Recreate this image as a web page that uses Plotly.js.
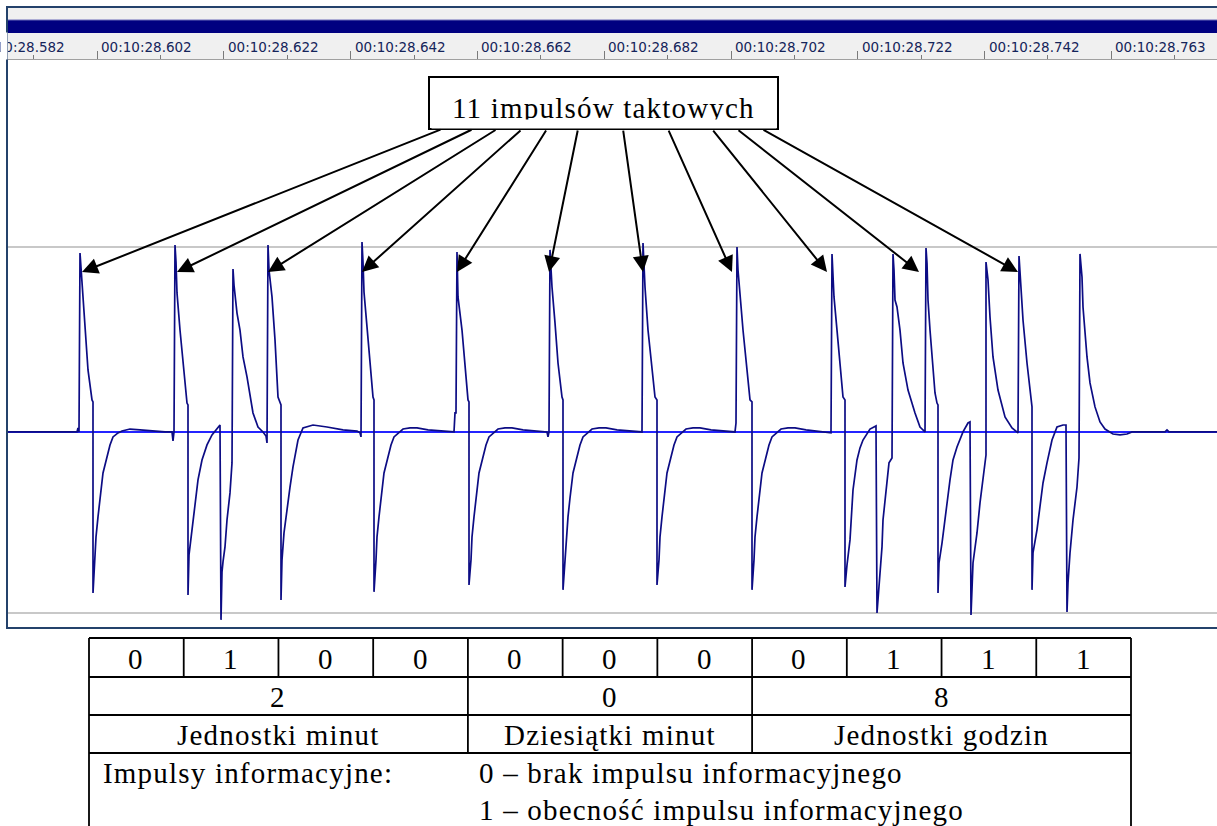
<!DOCTYPE html>
<html>
<head>
<meta charset="utf-8">
<script src="https://cdn.plot.ly/plotly-3.0.1.min.js"></script>
<style>
html, body { margin: 0; padding: 0; background: #ffffff; }
#chart { width: 1217px; height: 826px; }
text.annotation-text[style*="Liberation Serif"] { letter-spacing: 1.2px; }
</style>
</head>
<body>
<div id="chart"></div>
<script>
// ---------------- DATA ----------------
// time axis: sample index (44.1 kHz) relative to 00:10:28.602 ; amplitude normalised to the grey reference level
const timeTickSamples = [-888, 0, 888, 1775, 2663, 3550, 4438, 5325, 6213, 7100];
const timeTickLabels = ['00:10:28.582', '00:10:28.602', '00:10:28.622', '00:10:28.642', '00:10:28.662',
                        '00:10:28.682', '00:10:28.702', '00:10:28.722', '00:10:28.742', '00:10:28.763'];
const referenceLevels = [-0.989, 1.011];

const leadInT = [-623, -140, -133, -126];
const leadInV = [0, 0, 0.022, 0];

const clock1T = [-119, -112, -98, -84, -63, -35, -28, -28, -14, -7, 7, 21, 42, 70, 91, 112, 147, 175, 231, 301, 371, 476, 525, 532, 539];
const clock1V = [0.978, 0.896, 0.738, 0.557, 0.339, 0.175, 0.164, -0.880, -0.699, -0.574, -0.464, -0.361, -0.224, -0.137, -0.071, -0.027, -0.005, 0.005, 0.016, 0.011, 0.005, 0, 0, -0.049, 0];

const clock2T = [546, 553, 560, 581, 602, 630, 637, 637, 644, 665, 686, 707, 735, 770, 805, 840, 861, 868, 875, 882, 896, 910, 931, 945, 952, 959, 980, 1001, 1022, 1050, 1071, 1092, 1127, 1162, 1183, 1190];
const clock2V = [1.022, 0.929, 0.760, 0.557, 0.377, 0.158, 0.148, -0.891, -0.672, -0.535, -0.388, -0.262, -0.153, -0.071, -0.016, 0.022, 0.038, -1.027, -0.765, -0.710, -0.628, -0.481, -0.333, -0.169, 0.891, 0.803, 0.650, 0.557, 0.410, 0.301, 0.191, 0.104, 0.027, 0, -0.022, -0.060];

const clock3T = [1197, 1204, 1225, 1246, 1267, 1281, 1288, 1288, 1295, 1309, 1330, 1351, 1372, 1407, 1442, 1512, 1610, 1722, 1820, 1841, 1848];
const clock3V = [1.022, 0.885, 0.738, 0.503, 0.191, 0.158, 0.148, -0.918, -0.699, -0.552, -0.410, -0.301, -0.191, -0.044, 0.022, 0.038, 0.027, 0.011, 0.005, -0.005, -0.027];

const clock4T = [1855, 1862, 1869, 1890, 1911, 1932, 1939, 1939, 1953, 1960, 1974, 1988, 2009, 2037, 2058, 2079, 2114, 2142, 2191, 2240, 2317, 2401, 2499];
const clock4V = [1.038, 0.929, 0.765, 0.574, 0.377, 0.191, 0.175, -0.874, -0.699, -0.574, -0.464, -0.361, -0.224, -0.137, -0.071, -0.027, 0, 0.016, 0.022, 0.022, 0.011, 0.005, 0];

const clock5T = [2506, 2513, 2520, 2527, 2555, 2576, 2597, 2604, 2604, 2618, 2625, 2639, 2653, 2674, 2702, 2723, 2744, 2779, 2807, 2856, 2905, 2982, 3066, 3150, 3157, 3164];
const clock5V = [0.104, 0.104, 0.984, 0.738, 0.557, 0.339, 0.175, 0.164, -0.836, -0.699, -0.574, -0.464, -0.361, -0.224, -0.137, -0.071, -0.027, 0, 0.016, 0.022, 0.022, 0.011, 0.005, 0, -0.027, 0];

const clock6T = [3171, 3178, 3185, 3206, 3227, 3255, 3262, 3262, 3276, 3283, 3297, 3311, 3332, 3360, 3381, 3402, 3437, 3465, 3514, 3563, 3640, 3724, 3815];
const clock6V = [0.995, 0.885, 0.792, 0.596, 0.377, 0.191, 0.175, -0.863, -0.699, -0.574, -0.464, -0.361, -0.224, -0.137, -0.071, -0.027, 0, 0.016, 0.022, 0.022, 0.011, 0.005, 0];

const clock7T = [3822, 3829, 3836, 3857, 3885, 3906, 3920, 3920, 3934, 3941, 3955, 3969, 3990, 4018, 4039, 4060, 4095, 4123, 4172, 4221, 4298, 4382, 4466, 4473];
const clock7V = [1.033, 0.913, 0.792, 0.557, 0.339, 0.191, 0.175, -0.836, -0.699, -0.574, -0.464, -0.361, -0.224, -0.137, -0.071, -0.027, 0, 0.016, 0.022, 0.022, 0.011, 0.005, 0, 0.049];

const clock8T = [4480, 4487, 4501, 4522, 4550, 4571, 4585, 4585, 4599, 4606, 4620, 4634, 4655, 4683, 4704, 4725, 4760, 4788, 4837, 4886, 4963, 5047, 5138];
const clock8V = [1.011, 0.885, 0.738, 0.557, 0.339, 0.175, 0.164, -0.863, -0.699, -0.574, -0.464, -0.361, -0.224, -0.137, -0.071, -0.027, 0, 0.016, 0.022, 0.022, 0.011, 0.005, -0.005];

const clock9T = [5145, 5152, 5159, 5180, 5201, 5222, 5236, 5236, 5250, 5271, 5292, 5320, 5341, 5362, 5411, 5453, 5460, 5474, 5481, 5495, 5502, 5516, 5530, 5544, 5565, 5572, 5579, 5586, 5600, 5621, 5642, 5677, 5726, 5761, 5796];
const clock9V = [0.973, 0.858, 0.738, 0.557, 0.377, 0.191, 0.175, -0.847, -0.727, -0.590, -0.317, -0.153, -0.087, -0.044, 0.016, 0.033, -0.989, -0.863, -0.792, -0.628, -0.481, -0.372, -0.262, -0.169, -0.142, 0.973, 0.885, 0.721, 0.683, 0.557, 0.377, 0.229, 0.104, 0.027, 0];

const clock10T = [5803, 5810, 5817, 5831, 5852, 5866, 5880, 5887, 5887, 5894, 5915, 5936, 5950, 5971, 5992, 6020, 6062, 6097, 6111, 6118, 6132, 6160, 6181, 6202, 6216, 6223, 6223, 6237, 6251, 6272, 6307, 6356, 6405, 6447];
const clock10V = [1.005, 0.923, 0.721, 0.557, 0.366, 0.213, 0.158, 0.148, -0.880, -0.716, -0.607, -0.481, -0.372, -0.262, -0.153, -0.082, 0, 0.049, 0.055, -1.000, -0.716, -0.552, -0.388, -0.262, -0.153, -0.126, 0.929, 0.831, 0.628, 0.410, 0.229, 0.082, 0.022, -0.005];

const clock11T = [6454, 6461, 6468, 6482, 6510, 6531, 6545, 6545, 6552, 6580, 6601, 6622, 6650, 6685, 6720, 6762, 6783, 6790, 6797, 6811, 6832, 6860, 6874, 6881, 6895, 6902, 6930, 6951, 6986, 7021, 7056, 7091, 7112, 7161, 7210, 7245, 7476, 7490, 7504, 7840];
const clock11V = [0.962, 0.858, 0.776, 0.612, 0.377, 0.213, 0.137, -0.863, -0.661, -0.535, -0.410, -0.279, -0.169, -0.044, 0.027, 0.038, 0.038, -0.984, -0.825, -0.661, -0.481, -0.301, -0.142, 0.973, 0.847, 0.683, 0.410, 0.268, 0.137, 0.055, 0.016, 0, -0.011, -0.016, -0.011, 0, 0, 0.011, 0, 0];

// arrows: targets of the 11 clock pulses
const arrowTipT = [-105, 560, 1197, 1855, 2520, 3164, 3822, 4445, 5110, 5754, 6447];
const arrowTipV = 0.874;
const calloutText = '11 impulsów taktowych';

// table
const bits = ['0', '1', '0', '0', '0', '0', '0', '0', '1', '1', '1'];
const groupSpans = [4, 3, 4];
const groupDigits = ['2', '0', '8'];
const groupLabels = ['Jednostki minut', 'Dziesiątki minut', 'Jednostki godzin'];
const legendTitle = 'Impulsy informacyjne:';
const legendLines = ['0 – brak impulsu informacyjnego', '1 – obecność impulsu informacyjnego'];

// ---------------- LAYOUT HELPERS ----------------
const W = 1217, H = 826;
const M = { l: 8, r: 0, t: 60, b: 199 };
const PW = W - M.l - M.r, PH = H - M.t - M.b;
const px = x => (x - M.l) / PW;
const py = y => (H - M.b - y) / PH;
const xRange = [-623, 7840];
const yRange = [-1.066, 2.033];

const waveT = [].concat(leadInT, clock1T, clock2T, clock3T, clock4T, clock5T, clock6T, clock7T, clock8T, clock9T, clock10T, clock11T);
const waveV = [].concat(leadInV, clock1V, clock2V, clock3V, clock4V, clock5V, clock6V, clock7V, clock8V, clock9V, clock10V, clock11V);

const serif = 'Liberation Serif, Times New Roman, serif';
const sans = 'DejaVu Sans, Verdana, sans-serif';

const shapes = [];
const annotations = [];

// window chrome: grey strip, navy title bar, frame
shapes.push({ type: 'rect', xref: 'paper', yref: 'paper', x0: px(7), x1: px(1220), y0: py(60), y1: py(8),
  fillcolor: '#F0F0F0', line: { width: 0 }, layer: 'below' });
shapes.push({ type: 'rect', xref: 'paper', yref: 'paper', x0: px(8), x1: px(1220), y0: py(33), y1: py(20),
  fillcolor: '#000080', line: { width: 0 }, layer: 'below' });
shapes.push({ type: 'line', xref: 'paper', yref: 'paper', x0: px(8), x1: px(1220), y0: py(20), y1: py(20),
  line: { color: '#6A6AB8', width: 1 }, layer: 'below' });
const frameColor = '#24426B';
shapes.push({ type: 'line', xref: 'paper', yref: 'paper', x0: px(7), x1: px(7), y0: py(6), y1: py(629), line: { color: frameColor, width: 2 } });
shapes.push({ type: 'line', xref: 'paper', yref: 'paper', x0: px(6), x1: px(1220), y0: py(7), y1: py(7), line: { color: frameColor, width: 2 } });
shapes.push({ type: 'line', xref: 'paper', yref: 'paper', x0: px(6), x1: px(1220), y0: py(628), y1: py(628), line: { color: frameColor, width: 2 } });

// callout box
shapes.push({ type: 'rect', xref: 'paper', yref: 'paper', x0: px(429), x1: px(778), y0: py(129), y1: py(77),
  fillcolor: '#ffffff', line: { color: '#000000', width: 2 }, layer: 'above' });

// time tick labels (left-aligned after each tick)
timeTickSamples.forEach((t, i) => {
  const inRange = t >= xRange[0] && t <= xRange[1];
  annotations.push({
    xref: inRange ? 'x' : 'paper', yref: 'paper',
    x: inRange ? t : (t - xRange[0]) / (xRange[1] - xRange[0]),
    y: py(47), xanchor: 'left', yanchor: 'middle', xshift: 2,
    text: timeTickLabels[i], showarrow: false,
    font: { family: sans, size: 13.5, color: '#14245A' }
  });
});
// mask left of the frame
annotations.push({ xref: 'paper', yref: 'paper', x: px(0), y: py(46), xanchor: 'left', yanchor: 'middle',
  text: ' ', showarrow: false, width: 6, height: 26, bgcolor: '#ffffff', borderpad: 0, font: { size: 4 } });

// callout text
annotations.push({ xref: 'paper', yref: 'paper', x: px(603.5), y: py(107.5), xanchor: 'center', yanchor: 'middle',
  text: calloutText, showarrow: false, font: { family: serif, size: 29, color: '#000000' } });
// clip the descenders (as in the original text frame)
annotations.push({ xref: 'paper', yref: 'paper', x: px(603.5), y: py(123.5), xanchor: 'center', yanchor: 'middle',
  text: ' ', showarrow: false, width: 344, height: 8, bgcolor: '#ffffff', borderpad: 0, font: { size: 4 } });

// arrows from box to the clock pulses
const arrowTailPx = [442, 473, 497, 522, 547, 578, 623, 668, 712, 737, 762];
const arrowTipPx = [82, 177, 268, 362, 457, 549, 643, 732, 827, 919, 1018];
arrowTipT.forEach((t, i) => {
  annotations.push({
    xref: 'x', yref: 'y', x: t, y: arrowTipV, text: '', showarrow: true,
    ax: arrowTailPx[i] - arrowTipPx[i], ay: 129 - 272,
    arrowhead: 2, arrowsize: 1.6, arrowwidth: 2, arrowcolor: '#000000', standoff: 0, startstandoff: 0
  });
});

// table
const tL = 89, tR = 1131, rowY = [638, 677, 715, 753], tB = 832;
const cw = (tR - tL) / bits.length;
const tableLine = { color: '#000000', width: 1.8 };
rowY.forEach(y => shapes.push({ type: 'line', xref: 'paper', yref: 'paper', x0: px(tL), x1: px(tR), y0: py(y), y1: py(y), line: tableLine }));
[tL, tR].forEach(x => shapes.push({ type: 'line', xref: 'paper', yref: 'paper', x0: px(x), x1: px(x), y0: py(rowY[0]), y1: py(tB), line: tableLine }));
for (let i = 1; i < bits.length; i++) {
  const x = tL + i * cw;
  shapes.push({ type: 'line', xref: 'paper', yref: 'paper', x0: px(x), x1: px(x), y0: py(rowY[0]), y1: py(rowY[1]), line: tableLine });
}
let acc = 0;
const groupCenters = [];
groupSpans.forEach((s, gi) => {
  groupCenters.push(tL + (acc + s / 2) * cw);
  acc += s;
  if (gi < groupSpans.length - 1) {
    const x = tL + acc * cw;
    shapes.push({ type: 'line', xref: 'paper', yref: 'paper', x0: px(x), x1: px(x), y0: py(rowY[1]), y1: py(rowY[3]), line: tableLine });
  }
});
const tFont = { family: serif, size: 29, color: '#000000' };
bits.forEach((b, i) => annotations.push({ xref: 'paper', yref: 'paper', x: px(tL + (i + 0.5) * cw), y: py(659),
  xanchor: 'center', yanchor: 'middle', text: b, showarrow: false, font: tFont }));
groupDigits.forEach((d, i) => annotations.push({ xref: 'paper', yref: 'paper', x: px(groupCenters[i]), y: py(697),
  xanchor: 'center', yanchor: 'middle', text: d, showarrow: false, font: tFont }));
groupLabels.forEach((d, i) => annotations.push({ xref: 'paper', yref: 'paper', x: px(groupCenters[i]), y: py(735),
  xanchor: 'center', yanchor: 'middle', text: d, showarrow: false, font: tFont }));
annotations.push({ xref: 'paper', yref: 'paper', x: px(101), y: py(773), xanchor: 'left', yanchor: 'middle',
  text: legendTitle, showarrow: false, font: tFont });
legendLines.forEach((d, i) => annotations.push({ xref: 'paper', yref: 'paper', x: px(477), y: py(773 + i * 37),
  xanchor: 'left', yanchor: 'middle', text: d, showarrow: false, font: tFont }));

// minor ticks halfway between major ticks
const minorTicks = timeTickSamples.map((t, i) => t + (i < timeTickSamples.length - 1 ? (timeTickSamples[i + 1] - t) / 2 : (t - timeTickSamples[i - 1]) / 2));

const trace = {
  type: 'scatter', mode: 'lines', x: waveT, y: waveV,
  line: { color: '#0C0C84', width: 1.7 }, hoverinfo: 'skip', showlegend: false
};

const layout = {
  width: W, height: H, margin: M,
  paper_bgcolor: '#ffffff', plot_bgcolor: '#ffffff', showlegend: false,
  xaxis: {
    range: xRange, side: 'top', showgrid: false, zeroline: false,
    showline: true, linecolor: '#A0A0A0', linewidth: 1,
    ticks: 'outside', ticklen: 8, tickwidth: 1, tickcolor: '#7A7A7A',
    tickmode: 'array', tickvals: timeTickSamples, showticklabels: false,
    minor: { tickmode: 'array', tickvals: minorTicks, ticks: 'outside', ticklen: 4, tickwidth: 1, tickcolor: '#7A7A7A', showgrid: false },
    fixedrange: true
  },
  yaxis: {
    range: yRange, showticklabels: false, ticks: '', showline: false,
    tickmode: 'array', tickvals: referenceLevels, showgrid: true, gridcolor: '#C8C8C8', gridwidth: 2,
    zeroline: true, zerolinecolor: '#2424FF', zerolinewidth: 1.5, fixedrange: true
  },
  shapes: shapes,
  annotations: annotations
};

Plotly.newPlot('chart', [trace], layout, { displayModeBar: false, staticPlot: true });
</script>
</body>
</html>
